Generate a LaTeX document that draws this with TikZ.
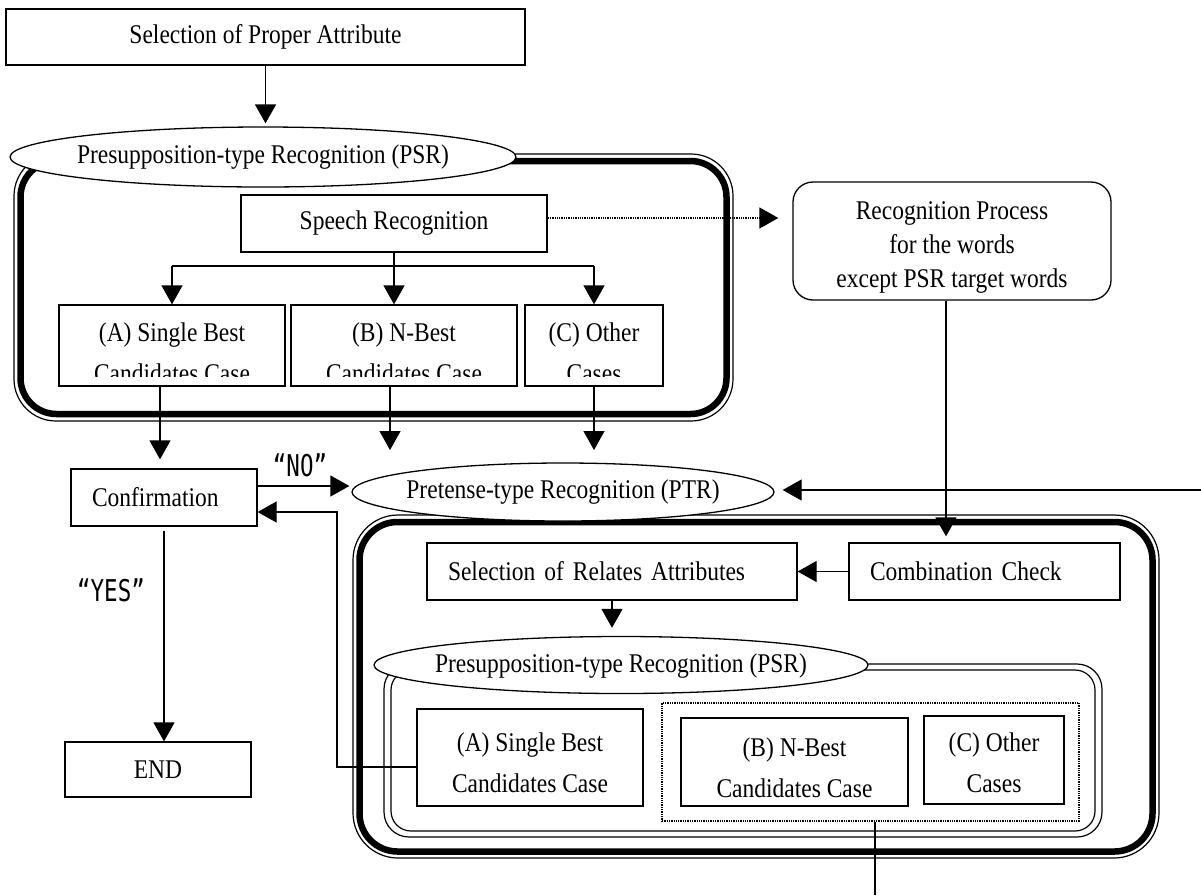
\documentclass[tikz,border=0pt]{standalone}
\usepackage{fontspec}
\setmainfont{Liberation Serif}[FakeStretch=0.87]
\newfontfamily\gothicfont{DejaVu Sans Mono}[FakeStretch=0.75]
\usetikzlibrary{arrows.meta,shapes.geometric}
\newcommand\fsa{\fontsize{27}{34}\selectfont}
\newcommand\fsb{\fontsize{27}{41}\selectfont}
\begin{document}
\begin{tikzpicture}[x=1pt,y=-1pt,
  box/.style={draw, line width=1.3pt, inner sep=0pt, font=\fsa, align=center},
  lbox/.style={draw, line width=1.3pt, inner ysep=0pt, inner xsep=21pt, font=\fsa, align=left, text width=#1},
  ell/.style={draw, ellipse, fill=white, line width=1.3pt, inner sep=0pt},
  txt/.style={inner sep=0pt, font=\fsa, align=center},
  txtb/.style={inner sep=0pt, font=\fsb, align=center},
  arr/.style={line width=1.3pt, -{Triangle[length=19pt,width=21pt]}},
  ln/.style={line width=1.3pt},
  thinline/.style={line width=1.2pt},
  thickline/.style={line width=6.5pt},
  gl/.style={inner sep=0pt, font=\gothicfont\fontsize{30}{30}\selectfont}]
\useasboundingbox (0,0) rectangle (1201,895);

% ---- frames ----
\draw[thinline, rounded corners=42pt] (14,154) rectangle (733,421);
\draw[thickline, rounded corners=36pt] (20.5,161) rectangle (726.5,414);
\draw[thinline, rounded corners=45pt] (353,515) rectangle (1159,858);
\draw[thickline, rounded corners=38pt] (359.5,522) rectangle (1152.5,851.5);
\draw[thinline, rounded corners=25pt] (384,664) rectangle (1102,837);
\draw[thinline, rounded corners=20pt] (391,670) rectangle (1095,831);

% ---- ellipses ----
\node[ell, minimum width=506pt, minimum height=60pt] (psr1) at (263,157) {};
\node[txt] (psr1t) at (263,157) {Presupposition-type Recognition (PSR)};
\node[ell, minimum width=422pt, minimum height=58pt] (ptr) at (563,492) {};
\node[txt] (ptrt) at (563,492) {Pretense-type Recognition (PTR)};
\node[ell, minimum width=494pt, minimum height=57pt] (psr2) at (621,665) {};
\node[txt] (psr2t) at (621,666) {Presupposition-type Recognition (PSR)};

% ---- boxes ----
\node[box, minimum width=519pt, minimum height=56pt] (top) at (265.5,37) {Selection of Proper Attribute};
\node[box, minimum width=306pt, minimum height=57pt] (speech) at (394,223.5) {Speech Recognition};
\node[box, minimum width=226pt, minimum height=81pt] (A1) at (172,345.5) {};
\node[box, minimum width=226pt, minimum height=81pt] (B1) at (404,345.5) {};
\node[box, minimum width=138pt, minimum height=81pt] (C1) at (594,345.5) {};
\begin{scope}
  \clip (40,300) rectangle (680,376);
  \node[txtb] (A1t) at (172,353) {(A) Single Best\\Candidates Case};
  \node[txtb] (B1t) at (404,353) {(B) N-Best\\Candidates Case};
  \node[txtb] (C1t) at (594,353) {(C) Other\\Cases};
\end{scope}
\node[box, rounded corners=20pt, minimum width=318pt, minimum height=118pt] (rec) at (952,241) {};
\node[txt] (rect) at (952,247) {Recognition Process\\for the words\\except PSR target words};
\node[lbox=144pt, minimum height=57pt] (conf) at (164,497.5) {Confirmation};
\node[box, minimum width=186pt, minimum height=55pt] (end) at (158,769.5) {END};
\node[lbox=328pt, minimum height=57pt] (sel2) at (612,571.5) {Selection of Relates Attributes};
\node[lbox=229pt, minimum height=57pt] (comb) at (984.5,571.5) {Combination Check};
\node[box, minimum width=226pt, minimum height=97pt] (A2) at (530,757.5) {};
\node[txtb] (A2t) at (530,763) {(A) Single Best\\Candidates Case};
\node[draw, densely dotted, line width=1.3pt, inner sep=0pt, minimum width=417pt, minimum height=118pt] (dbox) at (870.5,762) {};
\node[box, minimum width=227pt, minimum height=88pt] (B2) at (794.5,762) {};
\node[txtb] (B2t) at (794.5,768) {(B) N-Best\\Candidates Case};
\node[box, minimum width=140pt, minimum height=88pt] (C2) at (994,760) {};
\node[txtb] (C2t) at (994,763) {(C) Other\\Cases};

% ---- labels ----
\node[gl] (no) at (300,465) {“NO”};
\node[gl] (yes) at (111,590) {“YES”};

% ---- helper coordinates ----
\coordinate (sp) at (394,266);
\coordinate (bt) at (390,450);
\coordinate (ct) at (594,450);
\coordinate (noY) at (0,486);
\coordinate (dY) at (0,218);
\coordinate (ac) at (160,0);
\coordinate (r1) at (337,767);
\coordinate (r2) at (337,512);
\coordinate (rin) at (1201,490);
\coordinate (rc) at (946,0);
\coordinate (dbot) at (875,895);

% ---- connectors ----
\draw[arr, shorten >=3pt] (top.south) -- (top.south |- psr1.north);
\draw[arr] (speech.south) -- (speech.south |- B1.north);
\draw[ln] (A1.north |- sp) -- (C1.north |- sp);
\draw[arr] (A1.north |- sp) -- (A1.north);
\draw[arr] (C1.north |- sp) -- (C1.north);
\draw[arr, densely dotted, shorten >=14pt] (speech.east |- dY) -- (rec.west |- dY);
\draw[arr, shorten >=9pt] (A1.south -| ac) -- (conf.north -| ac);
\draw[arr] (B1.south -| bt) -- (bt);
\draw[arr] (C1.south -| ct) -- (ct);
\draw[arr, shorten >=2pt] (conf.east |- noY) -- (ptr.west |- noY);
\draw[arr] (A2.west |- r1) -- (r1) -- (r2) -- (conf.east |- r2);
\draw[arr, shorten <=4pt] (conf.south) -- (conf.south |- end.north);
\draw[arr, shorten >=8pt] (rin) -- (ptr.east |- rin);
\draw[arr, shorten >=6pt] (rec.south -| rc) -- (comb.north -| rc);
\draw[arr] (comb.west) -- (sel2.east);
\draw[arr, shorten >=8pt] (sel2.south) -- (sel2.south |- psr2.north);
\draw[ln] (dbox.south -| dbot) -- (dbot);
\end{tikzpicture}
\end{document}
